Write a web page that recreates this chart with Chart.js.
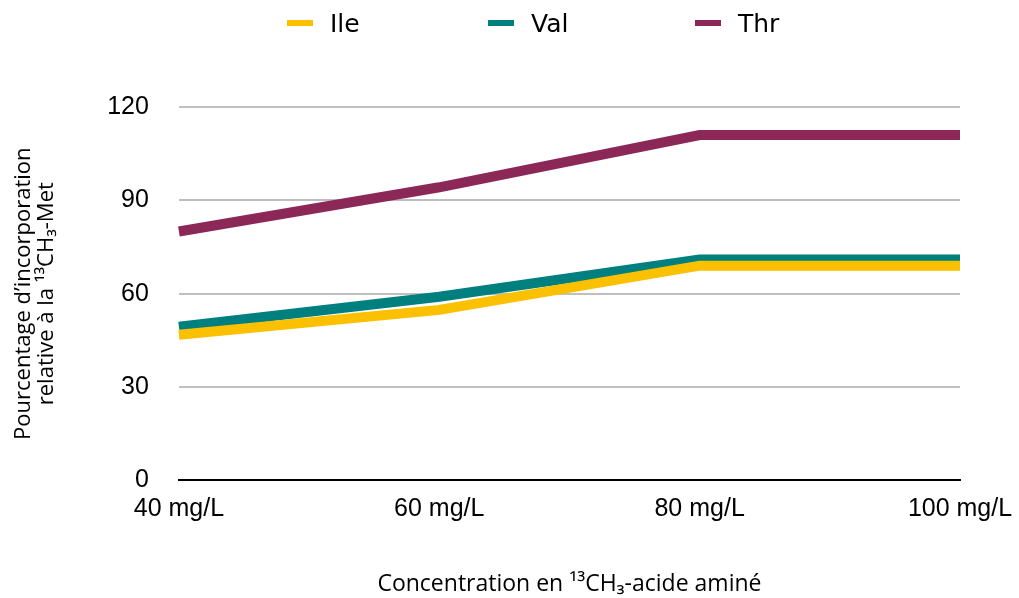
<!DOCTYPE html>
<html>
<head>
<meta charset="utf-8">
<script src="https://cdn.jsdelivr.net/npm/chart.js@4"></script>
<style>
  html, body { margin: 0; padding: 0; background: #fff; }
  #wrap { position: relative; width: 1019px; height: 598px; }
  #legend { position: absolute; top: 6px; left: 0; width: 1019px; height: 34px; }
  .item { position: absolute; top: 0; display: flex; align-items: center; height: 34px;
          font-family: "DejaVu Sans", sans-serif; font-size: 25px; color: #000; }
  .swatch { width: 26px; height: 6px; margin-right: 17px; }
</style>
</head>
<body>
<div id="wrap">
  <canvas id="myChart"></canvas>
  <div id="legend"></div>
</div>
<script>
const categories = ['40 mg/L', '60 mg/L', '80 mg/L', '100 mg/L'];
const ileValues = [46.8, 54.8, 69, 69];
const valValues = [49.4, 59, 71, 71];
const thrValues = [80, 94.2, 111, 111];
const seriesNames = ['Ile', 'Val', 'Thr'];
const seriesColors = ['#FBC000', '#007F7F', '#8B2858'];
const yTicks = [0, 30, 60, 90, 120];

const seriesValues = [ileValues, valValues, thrValues];

const datasets = seriesNames.map((name, i) => ({
  label: name,
  data: seriesValues[i],
  borderColor: seriesColors[i],
  backgroundColor: seriesColors[i],
  borderWidth: 10,
  pointRadius: 0,
  tension: 0,
  borderCapStyle: 'butt',
  borderJoinStyle: 'miter'
}));

// legend drawn as html, spaced like the original
const legendX = [287, 488, 695];
const legend = document.getElementById('legend');
seriesNames.forEach((name, i) => {
  const item = document.createElement('div');
  item.className = 'item';
  item.style.left = legendX[i] + 'px';
  item.innerHTML = '<div class="swatch" style="background:' + seriesColors[i] + '"></div>' + name;
  legend.appendChild(item);
});

const ctx = document.getElementById('myChart').getContext('2d');
const myChart = new Chart(ctx, {
  type: 'line',
  data: {
    labels: categories,
    datasets: datasets
  },
  options: {
    responsive: true,
    maintainAspectRatio: false,
    animation: false,
    layout: {
      padding: { top: 107, right: 4, left: 12, bottom: 0 }
    },
    plugins: {
      legend: { display: false },
      tooltip: { enabled: false }
    },
    scales: {
      x: {
        offset: false,
        grid: { display: false, drawTicks: false },
        border: { display: true, color: '#000', width: 2 },
        afterFit: axis => { axis.paddingRight = 59; },
        ticks: {
          color: '#000',
          padding: 14,
          maxRotation: 0,
          font: { family: 'Liberation Sans', size: 25 }
        },
        title: {
          display: true,
          text: 'Concentration en ¹³CH₃-acide aminé',
          color: '#000',
          padding: { top: 32, bottom: 0 },
          font: { family: 'Open Sans', size: 23 }
        }
      },
      y: {
        min: 0,
        max: 120,
        afterBuildTicks: axis => { axis.ticks = yTicks.map(v => ({ value: v })); },
        grid: {
          color: ctx => ctx.tick.value === 0 ? 'rgba(0,0,0,0)' : '#BFBFBF',
          lineWidth: 2,
          drawTicks: false
        },
        border: { display: false },
        ticks: {
          color: '#000',
          padding: 30,
          font: { family: 'Liberation Sans', size: 25 }
        },
        title: {
          display: true,
          text: ['Pourcentage d’incorporation', 'relative à la ¹³CH₃-Met'],
          color: '#000',
          padding: { top: 0, bottom: 19 },
          font: { family: 'Open Sans', size: 22, lineHeight: 1.05 }
        }
      }
    }
  }
});
</script>
</body>
</html>
